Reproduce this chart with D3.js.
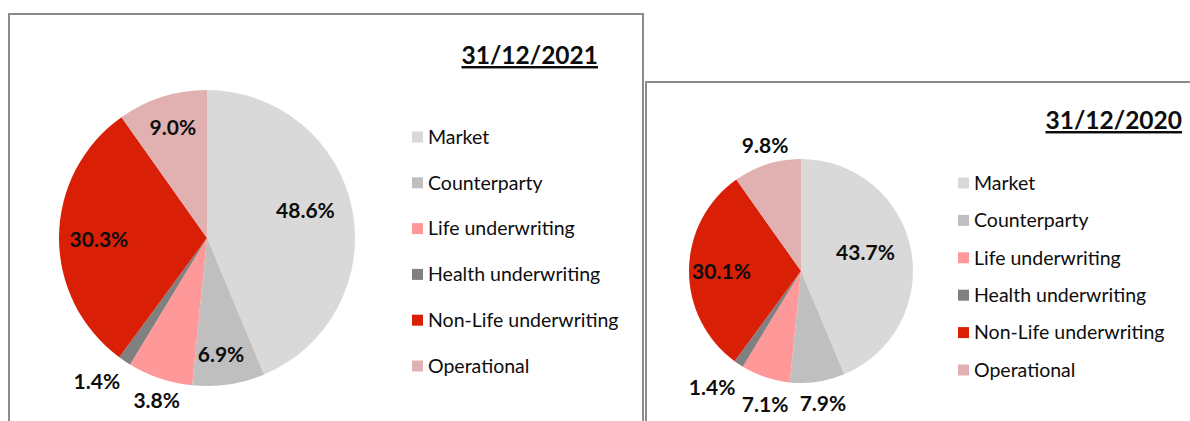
<!DOCTYPE html>
<html>
<head>
<meta charset="utf-8">
<script src="https://cdn.jsdelivr.net/npm/d3@7"></script>
<style>
  body { margin: 0; background: #fff; }
  svg text { font-family: Lato, "Open Sans", sans-serif; }
</style>
</head>
<body>
<div id="chart"></div>
<script>
var categories = ["Market", "Counterparty", "Life underwriting", "Health underwriting", "Non-Life underwriting", "Operational"];
// 2021: printed labels, and the slice sizes as actually drawn in the picture
var labels2021 = [48.6, 6.9, 3.8, 1.4, 30.3, 9.0];
var slices2021 = [43.7, 7.9, 7.1, 1.4, 30.1, 9.8];
var labels2020 = [43.7, 7.9, 7.1, 1.4, 30.1, 9.8];
var slices2020 = [43.7, 7.9, 7.1, 1.4, 30.1, 9.8];
var titles = ["31/12/2021", "31/12/2020"];

var colors = ["#d9d9d9", "#bfbfbf", "#ff9999", "#808080", "#d92006", "#e1b0b0"];

var width = 1190,
  height = 421;

var color = d3.scaleOrdinal().domain(categories).range(colors);

var svg = d3.select("#chart").append("svg")
  .attr("width", width)
  .attr("height", height);

// panel frames
svg.append("path")
  .attr("d", "M9,421V14H643V421")
  .attr("fill", "none")
  .attr("stroke", "#8c8c8c")
  .attr("stroke-width", 2);
svg.append("path")
  .attr("d", "M646,421V82H1190")
  .attr("fill", "none")
  .attr("stroke", "#8c8c8c")
  .attr("stroke-width", 2);

// label placement: angle (deg from 12 o'clock) and radius factor, per slice
var panels = [
  {
    slices: slices2021, labels: labels2021, title: titles[0],
    cx: 207, cy: 238, r: 148,
    titleX: 598, titleY: 64,
    legendX: 412, legendY: 137, legendStep: 45.8,
    labelAngle: [74.6, 173.1, 197.2, 217.6, 269.5, 342.8],
    labelRadius: [0.69, 0.79, 1.15, 1.22, 0.73, 0.78]
  },
  {
    slices: slices2020, labels: labels2020, title: titles[1],
    cx: 801, cy: 271, r: 112,
    titleX: 1182, titleY: 129,
    legendX: 958, legendY: 183, legendStep: 37.4,
    labelAngle: [73.7, 170.6, 195.1, 217.3, 270, 344.1],
    labelRadius: [0.60, 1.20, 1.23, 1.31, 0.71, 1.17]
  }
];

var pie = d3.pie().sort(null).value(function(d) { return d.value; });

panels.forEach(function(p) {
  var data = categories.map(function(c, i) {
    return { name: c, value: p.slices[i], label: p.labels[i] };
  });
  var arcs = pie(data);
  var arc = d3.arc().innerRadius(0).outerRadius(p.r);

  var g = svg.append("g")
    .attr("transform", "translate(" + p.cx + "," + p.cy + ")");

  g.selectAll(".slice")
    .data(arcs)
    .enter().append("path")
    .attr("class", "slice")
    .attr("d", arc)
    .attr("fill", function(d) { return color(d.data.name); });

  g.selectAll(".lbl")
    .data(arcs)
    .enter().append("text")
    .attr("class", "lbl")
    .attr("x", function(d, i) {
      return Math.sin(p.labelAngle[i] * Math.PI / 180) * p.r * p.labelRadius[i];
    })
    .attr("y", function(d, i) {
      return -Math.cos(p.labelAngle[i] * Math.PI / 180) * p.r * p.labelRadius[i];
    })
    .attr("dy", ".36em")
    .attr("text-anchor", "middle")
    .attr("font-size", 21)
    .attr("font-weight", "bold")
    .attr("fill", "#0d0d0d")
    .text(function(d) { return d.data.label.toFixed(1) + "%"; });

  svg.append("text")
    .attr("x", p.titleX)
    .attr("y", p.titleY)
    .attr("text-anchor", "end")
    .attr("font-size", 24.5)
    .attr("font-weight", "bold")
    .attr("text-decoration", "underline")
    .attr("fill", "#0d0d0d")
    .text(p.title);

  var legend = svg.append("g").selectAll(".leg")
    .data(categories)
    .enter().append("g")
    .attr("class", "leg")
    .attr("transform", function(d, i) {
      return "translate(" + p.legendX + "," + (p.legendY + i * p.legendStep) + ")";
    });

  legend.append("rect")
    .attr("x", 0)
    .attr("y", -5.5)
    .attr("width", 11)
    .attr("height", 11)
    .attr("fill", function(d) { return color(d); });

  legend.append("text")
    .attr("x", 16)
    .attr("dy", ".35em")
    .attr("font-size", 19.5)
    .attr("fill", "#0d0d0d")
    .text(function(d) { return d; });
});
</script>
</body>
</html>
